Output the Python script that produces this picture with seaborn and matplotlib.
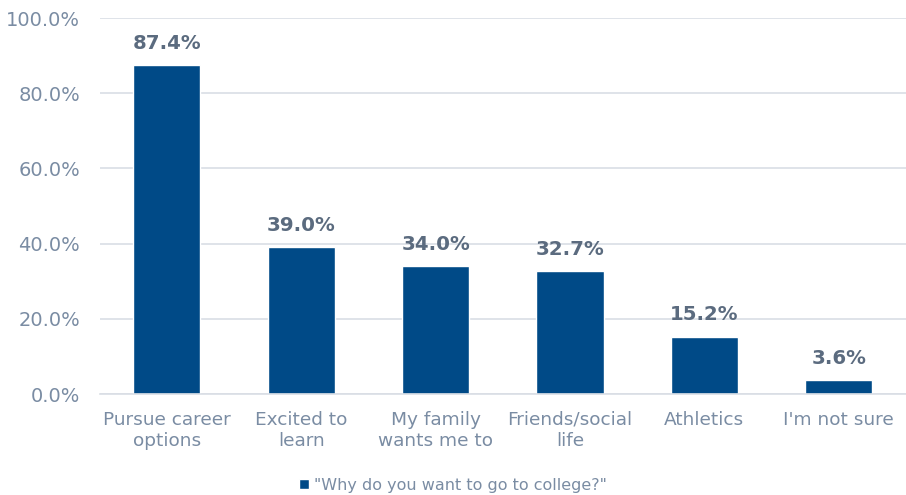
import matplotlib
matplotlib.use("Agg")
import matplotlib.pyplot as plt
import seaborn as sns
import pandas as pd
from matplotlib.ticker import FuncFormatter, MultipleLocator

categories = ["Pursue career\noptions", "Excited to\nlearn", "My family\nwants me to",
              "Friends/social\nlife", "Athletics", "I'm not sure"]
values = [87.4, 39.0, 34.0, 32.7, 15.2, 3.6]
series_name = '"Why do you want to go to college?"'

bar_color = "#004A87"
tick_color = "#7A8CA3"
label_color = "#5B6B7F"
grid_color = "#D9DEE5"

sns.set_theme(style="white")
plt.rcParams["font.family"] = ["DejaVu Sans"]

df = pd.DataFrame({"category": categories, "value": values, "series": series_name})

fig = plt.figure(figsize=(9.06, 4.95), dpi=100)
ax = fig.add_axes([0.1100, 0.204, 0.8900, 0.7596])

sns.barplot(data=df, x="category", y="value", hue="series", palette=[bar_color],
            width=0.5, ax=ax, legend=True, saturation=1)

ax.set_ylim(0, 100)
ax.set_xlim(-0.5, len(categories) - 0.5)
ax.yaxis.set_major_locator(MultipleLocator(20))
ax.yaxis.set_major_formatter(FuncFormatter(lambda v, _: f"{v:.1f}%"))
ax.grid(axis="y", color=grid_color, linewidth=1.2)
ax.set_axisbelow(True)
for side in ["left", "right", "top"]:
    ax.spines[side].set_visible(False)
ax.spines["bottom"].set_color(grid_color)
ax.spines["bottom"].set_linewidth(1.2)
ax.set_xlabel("")
ax.set_ylabel("")
ax.tick_params(axis="both", length=0, labelcolor=tick_color)
ax.tick_params(axis="x", pad=12, labelsize=13.3)
ax.tick_params(axis="y", pad=14, labelsize=14)

for i, v in enumerate(values):
    ax.annotate(f"{v:.1f}%", (i, v), xytext=(0, 9), textcoords="offset points",
                ha="center", va="bottom", fontsize=14.2, fontweight="bold",
                color=label_color)

leg = ax.legend(loc="center", bbox_to_anchor=(0.5, 0.02), bbox_transform=fig.transFigure,
                frameon=False, fontsize=11.5, handlelength=0.65, handleheight=0.65,
                handletextpad=0.3, labelcolor=tick_color)

# Ticks are created lazily at draw time; center the two-line category labels afterwards
fig.canvas.draw()
for lbl in ax.get_xticklabels():
    lbl.set_multialignment("center")
    lbl.set_linespacing(1.25)

fig.savefig("out.png", dpi=100)
